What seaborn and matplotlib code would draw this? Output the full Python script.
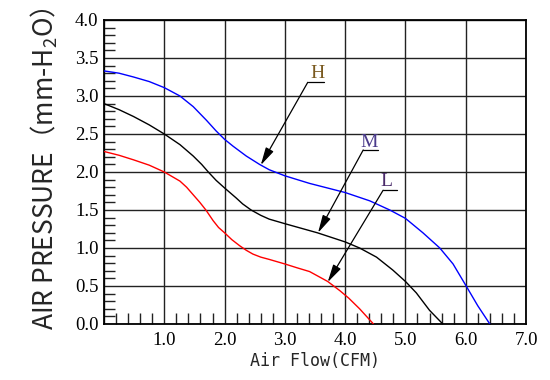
import numpy as np
import pandas as pd
import matplotlib
matplotlib.use("Agg")
import matplotlib.pyplot as plt
import seaborn as sns
from matplotlib.ticker import MultipleLocator

# fan curves (flow in CFM, pressure in mm-H2O)
flow_h = [0, 0.25, 0.49, 0.75, 1.0, 1.26, 1.48, 1.70, 1.86, 2.0, 2.14, 2.36, 2.58, 2.74, 3.0,
          3.41, 4.0, 4.41, 4.74, 5.0, 5.29, 5.57, 5.79, 6.0, 6.2, 6.4]
pres_h = [3.33, 3.30, 3.25, 3.19, 3.11, 3.0, 2.86, 2.68, 2.54, 2.43, 2.34, 2.21, 2.10, 2.03, 1.95,
          1.85, 1.73, 1.62, 1.5, 1.39, 1.20, 1.0, 0.79, 0.51, 0.24, 0.0]

flow_m = [0, 0.25, 0.49, 0.75, 1.0, 1.26, 1.48, 1.62, 1.73, 1.86, 2.0, 2.19, 2.3, 2.44, 2.6,
          2.74, 3.0, 3.27, 3.54, 3.77, 4.0, 4.24, 4.52, 4.79, 5.0, 5.18, 5.4, 5.62]
pres_m = [2.90, 2.82, 2.73, 2.62, 2.50, 2.36, 2.21, 2.10, 2.0, 1.89, 1.79, 1.66, 1.58, 1.5, 1.43,
          1.38, 1.32, 1.26, 1.20, 1.14, 1.08, 1.0, 0.88, 0.71, 0.56, 0.41, 0.18, 0.0]

flow_l = [0, 0.25, 0.49, 0.75, 1.0, 1.26, 1.37, 1.48, 1.59, 1.69, 1.81, 1.9, 2.0, 2.12, 2.25,
          2.36, 2.47, 2.6, 2.74, 3.0, 3.2, 3.41, 3.71, 3.91, 4.06, 4.24, 4.47]
pres_l = [2.27, 2.22, 2.16, 2.09, 2.0, 1.88, 1.80, 1.70, 1.60, 1.5, 1.36, 1.27, 1.20, 1.11, 1.03,
          0.97, 0.92, 0.88, 0.85, 0.79, 0.74, 0.69, 0.56, 0.44, 0.34, 0.2, 0.0]

speeds = ["H", "M", "L"]
line_colors = ["blue", "black", "red"]
label_colors = ["#7a5a20", "#4a3a8a", "#4a2a6a"]

# label text position, underline (x0, x1, y) and arrow tip, in data units
label_xy = [(3.55, 3.29), (4.39, 2.39), (4.69, 1.87)]
underline = [(3.38, 3.65, 3.18), (4.30, 4.54, 2.29), (4.63, 4.86, 1.76)]
arrow_tip = [(2.60, 2.09), (3.55, 1.20), (3.71, 0.55)]

x_ticks = [0, 1, 2, 3, 4, 5, 6, 7]
x_labels = ["", "1.0", "2.0", "3.0", "4.0", "5.0", "6.0", "7.0"]
y_ticks = [0, 0.5, 1.0, 1.5, 2.0, 2.5, 3.0, 3.5, 4.0]
y_labels = ["0.0", "0.5", "1.0", "1.5", "2.0", "2.5", "3.0", "3.5", "4.0"]

df = pd.concat([
    pd.DataFrame({"flow": flow_h, "pressure": pres_h, "speed": "H"}),
    pd.DataFrame({"flow": flow_m, "pressure": pres_m, "speed": "M"}),
    pd.DataFrame({"flow": flow_l, "pressure": pres_l, "speed": "L"}),
])

sns.set_theme(style="white")
plt.rcParams["font.family"] = ["Liberation Serif", "DejaVu Serif"]
plt.rcParams["mathtext.fontset"] = "custom"
plt.rcParams["mathtext.rm"] = "Noto Sans CJK JP"
plt.rcParams["mathtext.default"] = "regular"

fig = plt.figure(figsize=(5.5, 3.8), dpi=100)
ax = fig.add_axes([104 / 550, 1 - 324 / 380, 422 / 550, 304 / 380])

sns.lineplot(data=df, x="flow", y="pressure", hue="speed", hue_order=speeds,
             palette=dict(zip(speeds, line_colors)), sort=False, estimator=None,
             legend=False, linewidth=1.0, ax=ax, zorder=3)
for ln in ax.lines:
    ln.set_solid_joinstyle("round")

ax.set_xlim(0, 7)
ax.set_ylim(0, 4)
ax.set_xticks(x_ticks)
ax.set_xticklabels(x_labels)
ax.set_yticks(y_ticks)
ax.set_yticklabels(y_labels)
ax.xaxis.set_minor_locator(MultipleLocator(0.2))
ax.yaxis.set_minor_locator(MultipleLocator(0.1))
ax.grid(True, which="major", color="#222222", linewidth=1.0)
ax.tick_params(which="major", length=0, labelsize=13.5, colors="black")
ax.tick_params(axis="x", which="major", pad=6)
ax.tick_params(axis="y", which="major", pad=4)
ax.tick_params(which="minor", direction="in", length=8, width=1.0, color="#222222",
               bottom=True, left=True, top=False, right=False)
for sp in ax.spines.values():
    sp.set_color("black")
    sp.set_linewidth(1.3)

ax.set_xlabel("Air Flow(CFM)", family=["DejaVu Sans Mono"], fontsize=12, labelpad=2)
ax.set_ylabel("AIR PRESSURE（mm-H$_2$O）", family=["Noto Sans CJK JP", "DejaVu Sans"],
              fontsize=19)
ax.yaxis.set_label_coords(-0.105, 0.51)

for i, s in enumerate(speeds):
    x0, x1, yu = underline[i]
    ax.plot([x0, x1], [yu, yu], color="black", linewidth=0.9, zorder=4)
    ax.annotate("", xy=arrow_tip[i], xytext=(x0, yu),
                arrowprops=dict(arrowstyle="-|>,head_length=0.9,head_width=0.22",
                                color="black", lw=0.9, shrinkA=0, shrinkB=0), zorder=4)
    ax.text(label_xy[i][0], label_xy[i][1], s, ha="center", va="center",
            fontsize=14, color=label_colors[i], zorder=4)

fig.savefig("out.png", dpi=100)
